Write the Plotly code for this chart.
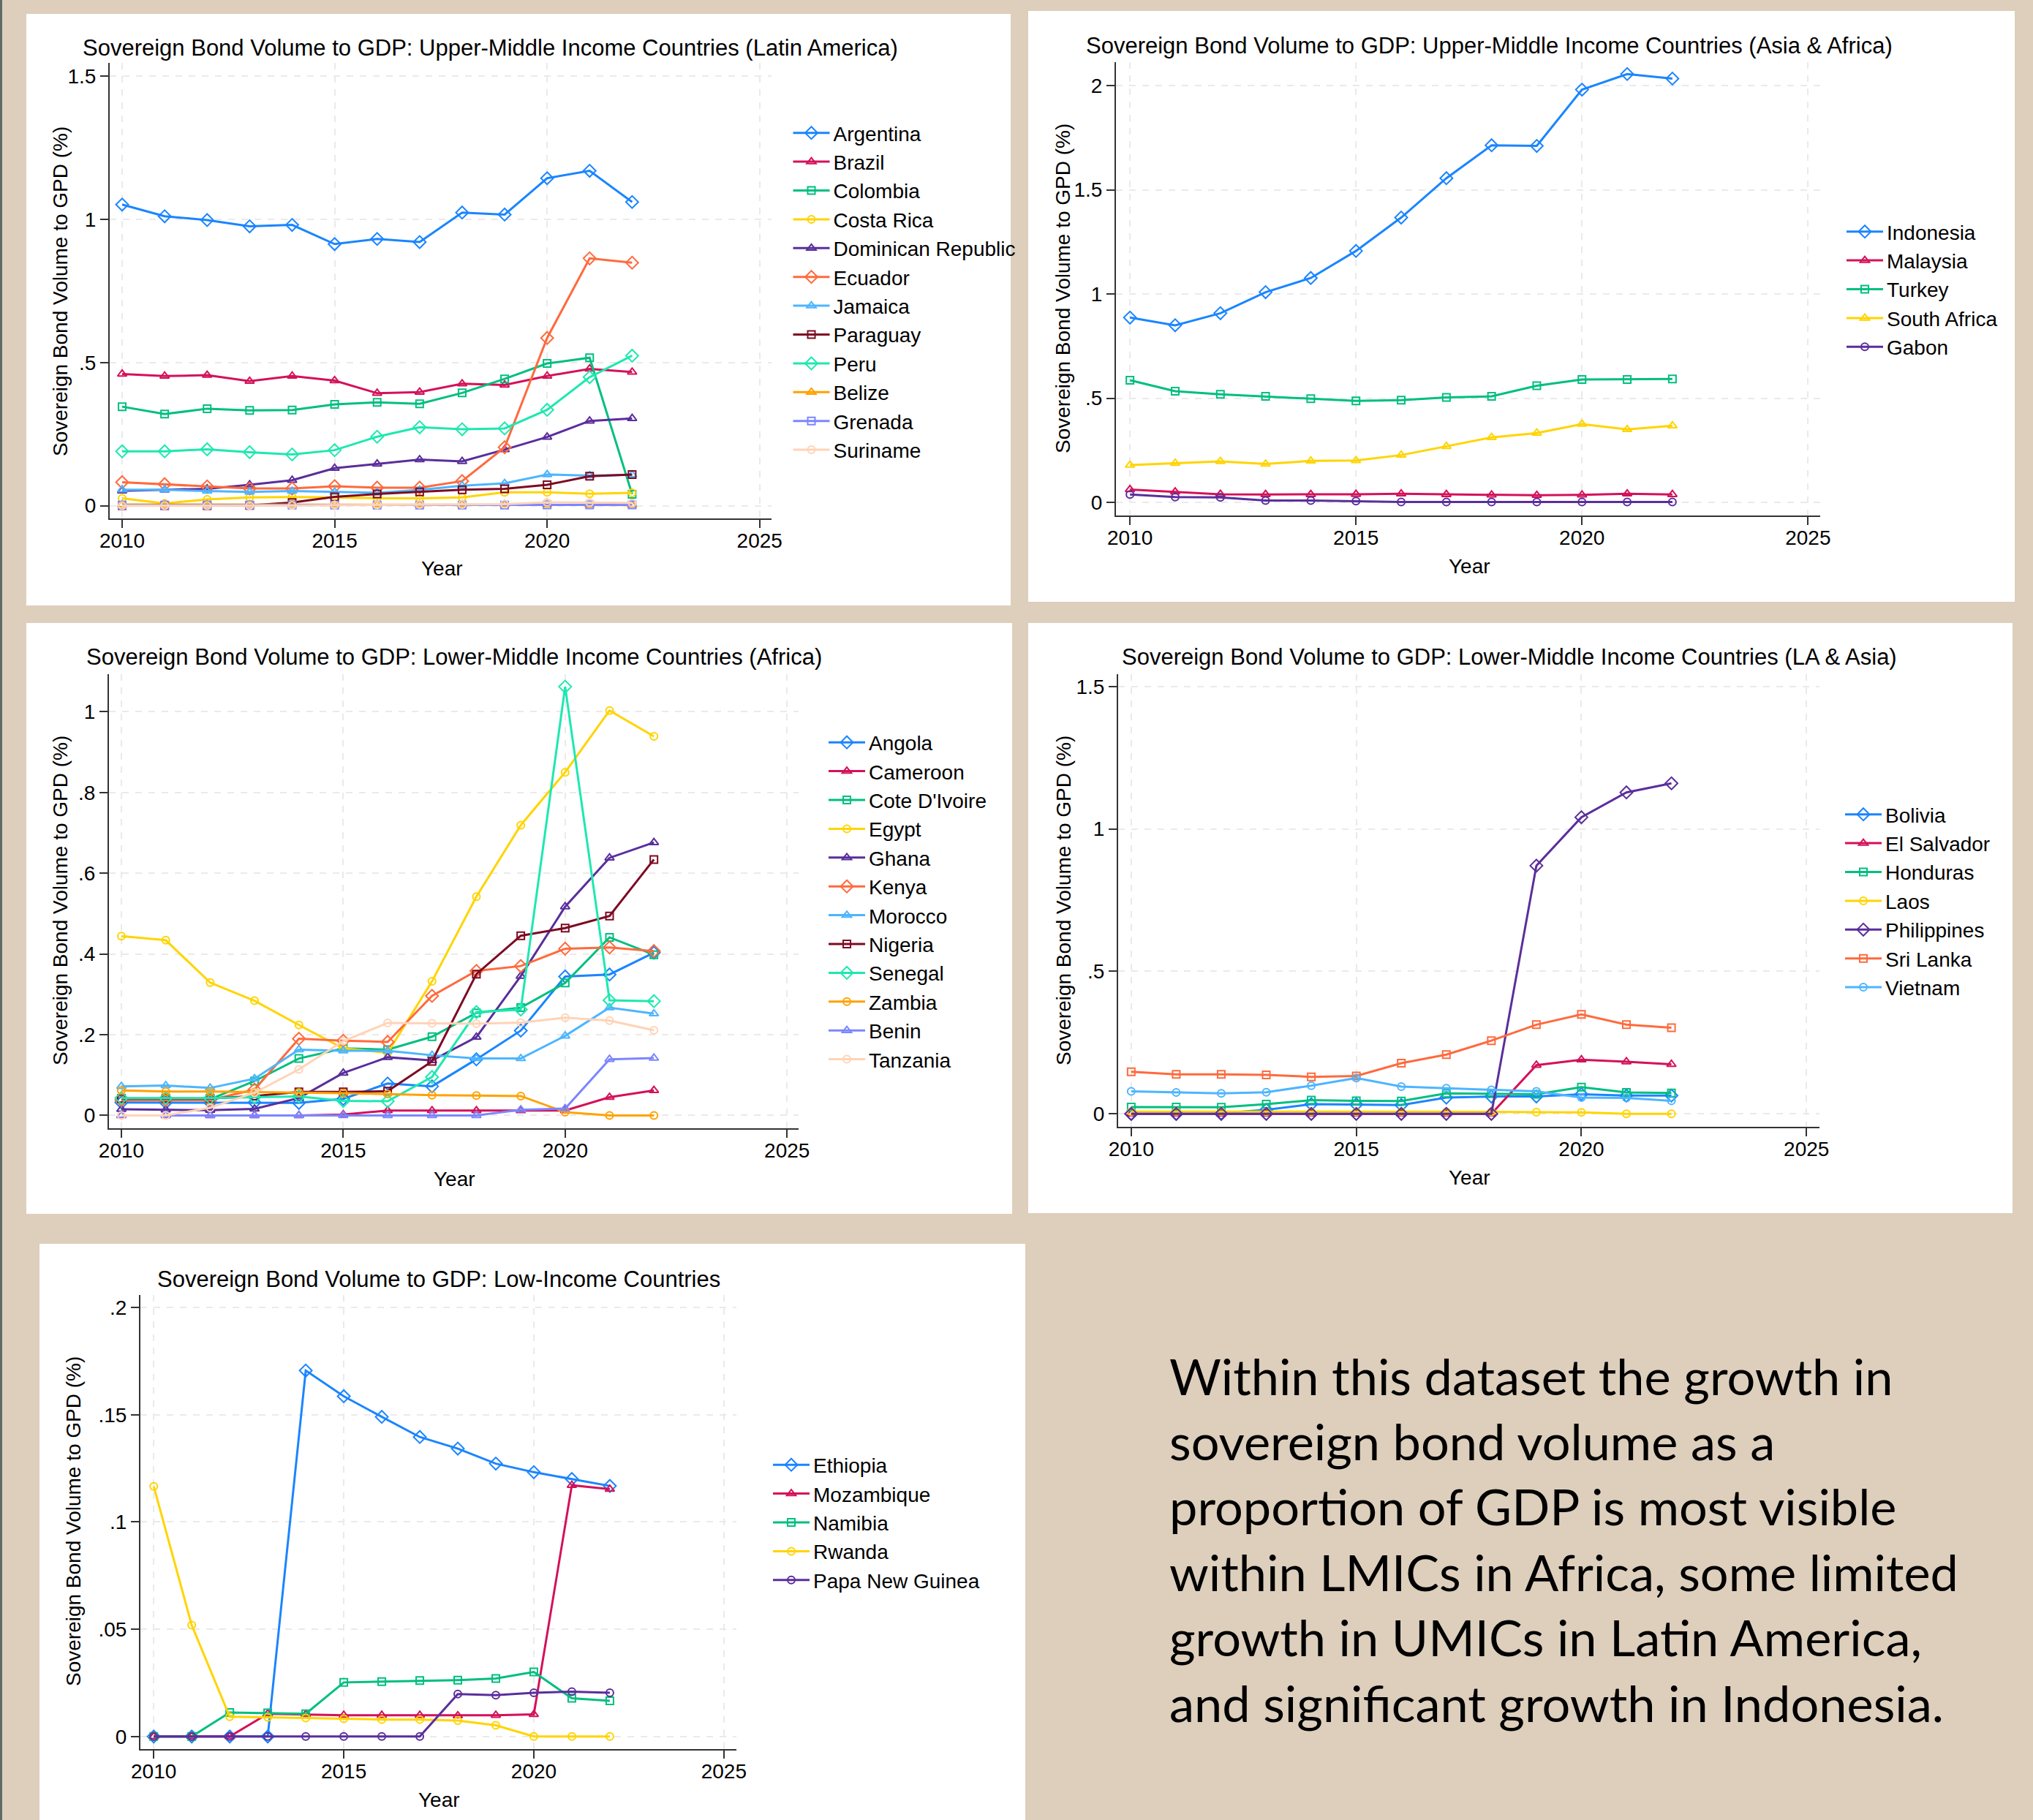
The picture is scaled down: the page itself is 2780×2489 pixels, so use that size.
import plotly.graph_objects as go

W, H = 2780, 2489

# ---------------- DATA ----------------
YEARS = [2010, 2011, 2012, 2013, 2014, 2015, 2016, 2017, 2018, 2019, 2020, 2021, 2022]

# Panel 1: Upper-Middle Income Countries (Latin America)
argentina = [1.052, 1.011, 0.998, 0.976, 0.981, 0.914, 0.932, 0.921, 1.024, 1.017, 1.144, 1.170, 1.061]
brazil = [0.460, 0.453, 0.456, 0.435, 0.453, 0.437, 0.393, 0.397, 0.426, 0.422, 0.453, 0.478, 0.467]
colombia = [0.346, 0.320, 0.339, 0.333, 0.334, 0.354, 0.361, 0.356, 0.394, 0.443, 0.497, 0.517, 0.040]
costa_rica = [0.026, 0.008, 0.022, 0.029, 0.030, 0.029, 0.026, 0.026, 0.029, 0.047, 0.047, 0.042, 0.045]
dominican_republic = [0.052, 0.055, 0.059, 0.073, 0.089, 0.131, 0.146, 0.161, 0.155, 0.196, 0.240, 0.296, 0.305]
ecuador = [0.082, 0.075, 0.067, 0.060, 0.060, 0.068, 0.063, 0.063, 0.086, 0.204, 0.586, 0.864, 0.849]
jamaica = [0.056, 0.056, 0.051, 0.048, 0.051, 0.048, 0.045, 0.055, 0.070, 0.078, 0.109, 0.105, 0.108]
paraguay = [0.000, 0.000, 0.000, 0.001, 0.011, 0.031, 0.041, 0.048, 0.056, 0.059, 0.073, 0.103, 0.109]
peru = [0.190, 0.190, 0.197, 0.187, 0.179, 0.194, 0.241, 0.274, 0.267, 0.270, 0.335, 0.449, 0.524]
belize = [0.004, 0.004, 0.004, 0.004, 0.004, 0.004, 0.004, 0.004, 0.004, 0.004, 0.004, 0.003, 0.002]
grenada = [0.002, 0.002, 0.002, 0.002, 0.002, 0.002, 0.002, 0.002, 0.002, 0.002, 0.003, 0.003, 0.003]
suriname = [0.000, 0.000, 0.000, 0.000, 0.001, 0.002, 0.003, 0.004, 0.004, 0.005, 0.012, 0.011, 0.010]
P1_COUNTRIES = ["Argentina", "Brazil", "Colombia", "Costa Rica", "Dominican Republic", "Ecuador",
                "Jamaica", "Paraguay", "Peru", "Belize", "Grenada", "Suriname"]
P1_SERIES = [argentina, brazil, colombia, costa_rica, dominican_republic, ecuador,
             jamaica, paraguay, peru, belize, grenada, suriname]
P1_TICKS = [0, 0.5, 1, 1.5]
P1_TICKTEXT = ["0", ".5", "1", "1.5"]

# Panel 2: Upper-Middle Income Countries (Asia & Africa)
indonesia = [0.887, 0.850, 0.908, 1.009, 1.077, 1.207, 1.367, 1.556, 1.714, 1.711, 1.981, 2.056, 2.034]
malaysia = [0.062, 0.051, 0.039, 0.038, 0.038, 0.039, 0.041, 0.038, 0.036, 0.034, 0.036, 0.041, 0.038]
turkey = [0.586, 0.534, 0.519, 0.509, 0.498, 0.487, 0.491, 0.504, 0.509, 0.560, 0.590, 0.590, 0.592]
south_africa = [0.179, 0.188, 0.197, 0.184, 0.199, 0.201, 0.227, 0.269, 0.312, 0.333, 0.376, 0.350, 0.368]
gabon = [0.038, 0.026, 0.024, 0.009, 0.009, 0.006, 0.002, 0.002, 0.002, 0.002, 0.002, 0.002, 0.002]
P2_COUNTRIES = ["Indonesia", "Malaysia", "Turkey", "South Africa", "Gabon"]
P2_SERIES = [indonesia, malaysia, turkey, south_africa, gabon]
P2_TICKS = [0, 0.5, 1, 1.5, 2]
P2_TICKTEXT = ["0", ".5", "1", "1.5", "2"]

# Panel 3: Lower-Middle Income Countries (Africa)
angola = [0.032, 0.032, 0.032, 0.032, 0.031, 0.041, 0.079, 0.072, 0.139, 0.210, 0.344, 0.349, 0.403]
cameroon = [0.000, 0.000, 0.000, 0.000, 0.000, 0.002, 0.012, 0.012, 0.012, 0.012, 0.012, 0.045, 0.062]
cote_divoire = [0.040, 0.040, 0.040, 0.085, 0.141, 0.166, 0.163, 0.195, 0.254, 0.267, 0.328, 0.441, 0.398]
egypt = [0.444, 0.434, 0.329, 0.284, 0.224, 0.166, 0.155, 0.332, 0.542, 0.719, 0.850, 1.003, 0.939]
ghana = [0.015, 0.014, 0.013, 0.016, 0.043, 0.105, 0.144, 0.136, 0.194, 0.345, 0.517, 0.638, 0.676]
kenya = [0.038, 0.038, 0.038, 0.064, 0.190, 0.185, 0.182, 0.296, 0.358, 0.370, 0.413, 0.416, 0.407]
morocco = [0.072, 0.074, 0.068, 0.091, 0.163, 0.160, 0.160, 0.149, 0.141, 0.141, 0.197, 0.267, 0.252]
nigeria = [0.042, 0.042, 0.042, 0.048, 0.058, 0.058, 0.060, 0.134, 0.350, 0.445, 0.464, 0.494, 0.634]
senegal = [0.043, 0.043, 0.043, 0.045, 0.047, 0.036, 0.035, 0.095, 0.256, 0.262, 1.062, 0.285, 0.283]
zambia = [0.062, 0.059, 0.059, 0.058, 0.057, 0.055, 0.053, 0.050, 0.049, 0.048, 0.008, 0.000, 0.000]
benin = [0.000, 0.000, 0.000, 0.000, 0.000, 0.000, 0.000, 0.000, 0.000, 0.014, 0.017, 0.139, 0.142]
tanzania = [0.000, 0.000, 0.019, 0.056, 0.114, 0.184, 0.229, 0.228, 0.227, 0.230, 0.242, 0.235, 0.211]
P3_COUNTRIES = ["Angola", "Cameroon", "Cote D'Ivoire", "Egypt", "Ghana", "Kenya", "Morocco",
                "Nigeria", "Senegal", "Zambia", "Benin", "Tanzania"]
P3_SERIES = [angola, cameroon, cote_divoire, egypt, ghana, kenya, morocco,
             nigeria, senegal, zambia, benin, tanzania]
P3_TICKS = [0, 0.2, 0.4, 0.6, 0.8, 1]
P3_TICKTEXT = ["0", ".2", ".4", ".6", ".8", "1"]

# Panel 4: Lower-Middle Income Countries (LA & Asia)
bolivia = [0.000, 0.000, 0.002, 0.014, 0.034, 0.033, 0.031, 0.057, 0.061, 0.061, 0.069, 0.064, 0.064]
el_salvador = [0.000, 0.000, 0.000, 0.000, 0.000, 0.000, 0.000, 0.000, 0.000, 0.171, 0.190, 0.183, 0.174]
honduras = [0.024, 0.024, 0.023, 0.034, 0.048, 0.046, 0.045, 0.072, 0.071, 0.069, 0.094, 0.075, 0.073]
laos = [0.008, 0.008, 0.008, 0.007, 0.007, 0.007, 0.007, 0.007, 0.007, 0.006, 0.005, 0.000, 0.000]
philippines = [0.000, 0.000, 0.000, 0.000, 0.000, 0.000, 0.000, 0.000, 0.000, 0.871, 1.041, 1.128, 1.160]
sri_lanka = [0.148, 0.139, 0.139, 0.137, 0.130, 0.133, 0.178, 0.208, 0.257, 0.313, 0.349, 0.313, 0.302]
vietnam = [0.079, 0.075, 0.072, 0.076, 0.099, 0.126, 0.096, 0.090, 0.084, 0.079, 0.057, 0.056, 0.046]
P4_COUNTRIES = ["Bolivia", "El Salvador", "Honduras", "Laos", "Philippines", "Sri Lanka", "Vietnam"]
P4_SERIES = [bolivia, el_salvador, honduras, laos, philippines, sri_lanka, vietnam]
P4_TICKS = [0, 0.5, 1, 1.5]
P4_TICKTEXT = ["0", ".5", "1", "1.5"]

# Panel 5: Low-Income Countries
ethiopia = [0.0, 0.0, 0.0, 0.0, 0.1706, 0.1586, 0.1490, 0.1396, 0.1342, 0.1272, 0.1232, 0.1200, 0.1168]
mozambique = [0.0, 0.0, 0.0, 0.0106, 0.0103, 0.0099, 0.0099, 0.0099, 0.0097, 0.0099, 0.0103, 0.1171, 0.1153]
namibia = [0.0, 0.0, 0.0112, 0.0110, 0.0106, 0.0252, 0.0256, 0.0261, 0.0263, 0.0270, 0.0301, 0.0178, 0.0166]
rwanda = [0.1166, 0.0519, 0.0092, 0.0090, 0.0086, 0.0083, 0.0079, 0.0079, 0.0074, 0.0052, 0.0, 0.0, 0.0]
papua_new_guinea = [0.0, 0.0, 0.0, 0.0, 0.0, 0.0, 0.0, 0.0, 0.0198, 0.0193, 0.0204, 0.0209, 0.0204]
P5_COUNTRIES = ["Ethiopia", "Mozambique", "Namibia", "Rwanda", "Papa New Guinea"]
P5_SERIES = [ethiopia, mozambique, namibia, rwanda, papua_new_guinea]
P5_TICKS = [0, 0.05, 0.1, 0.15, 0.2]
P5_TICKTEXT = ["0", ".05", ".1", ".15", ".2"]

X_TICKS = [2010, 2015, 2020, 2025]

TITLES = [
    "Sovereign Bond Volume to GDP: Upper-Middle Income Countries (Latin America)",
    "Sovereign Bond Volume to GDP: Upper-Middle Income Countries (Asia & Africa)",
    "Sovereign Bond Volume to GDP: Lower-Middle Income Countries (Africa)",
    "Sovereign Bond Volume to GDP: Lower-Middle Income Countries (LA & Asia)",
    "Sovereign Bond Volume to GDP: Low-Income Countries",
]
Y_TITLE = "Sovereign Bond Volume to GPD (%)"
X_TITLE = "Year"
NOTE_LINES = [
    "Within this dataset the growth in",
    "sovereign bond volume as a",
    "proportion of GDP is most visible",
    "within LMICs in Africa, some limited",
    "growth in UMICs in Latin America,",
    "and significant growth in Indonesia.",
]

# ---------------- STYLES ----------------
BLUE = "#1A85FF"
RED = "#D41159"
GREEN = "#00BF7F"
YELLOW = "#FFD400"
PURPLE = "#5A2E9C"
ORANGERED = "#FF6A3D"
LIGHTBLUE = "#4DB5FF"
MAROON = "#7D0A22"
AQUA = "#1DE8B0"
ORANGE = "#FFA200"
PERIWINKLE = "#7B86FF"
PEACH = "#FFD3B6"

D, T, S, C = "diamond-open", "triangle-up-open", "square-open", "circle-open"

P1_STYLE = list(zip([BLUE, RED, GREEN, YELLOW, PURPLE, ORANGERED, LIGHTBLUE, MAROON, AQUA, ORANGE, PERIWINKLE, PEACH],
                    [D, T, S, C, T, D, T, S, D, T, S, C]))
P2_STYLE = list(zip([BLUE, RED, GREEN, YELLOW, PURPLE], [D, T, S, T, C]))
P3_STYLE = list(zip([BLUE, RED, GREEN, YELLOW, PURPLE, ORANGERED, LIGHTBLUE, MAROON, AQUA, ORANGE, PERIWINKLE, PEACH],
                    [D, T, S, C, T, D, T, S, D, C, T, C]))
P4_STYLE = list(zip([BLUE, RED, GREEN, YELLOW, PURPLE, ORANGERED, LIGHTBLUE], [D, T, S, C, D, S, C]))
P5_STYLE = list(zip([BLUE, RED, GREEN, YELLOW, PURPLE], [D, T, S, C, C]))

MSIZE = {D: 13, T: 11, S: 10, C: 10}

FONT = "Liberation Sans, Arial, Helvetica, sans-serif"
BG = "#DDCFBC"
AXCOL = "#333333"

# pixel geometry of each panel: white box, plot area, axis ranges, title/ytitle/xtitle centres, legend
PANELS = [
    dict(box=(36, 19, 1382, 828), plot=(150, 86, 1055, 709), xr=(2009.707, 2025.28), yr=(-0.0445, 1.547),
         title=(670, 66), ytitle=(83, 399), xtitle=(604, 778), leg=(1079.5, 157)),
    dict(box=(1406, 15, 2755, 823), plot=(1526, 85, 2489, 705), xr=(2009.69, 2025.27), yr=(-0.063, 2.113),
         title=(2037, 62), ytitle=(1454, 395), xtitle=(2009, 774), leg=(2520, 292)),
    dict(box=(36, 852, 1384, 1660), plot=(149, 922, 1092, 1543), xr=(2009.72, 2025.26), yr=(-0.0319, 1.093),
         title=(621, 899), ytitle=(82, 1232), xtitle=(621, 1612), leg=(1128, 990.5)),
    dict(box=(1406, 852, 2752, 1659), plot=(1529, 922, 2487.5, 1541), xr=(2009.71, 2025.28), yr=(-0.0454, 1.543),
         title=(2064, 899), ytitle=(1454, 1232), xtitle=(2009, 1610), leg=(2518, 1089)),
    dict(box=(54, 1701, 1402, 2489), plot=(192, 1771, 1007, 2392), xr=(2009.65, 2025.33), yr=(-0.00586, 0.2058),
         title=(600, 1749), ytitle=(100, 2081), xtitle=(600, 2461), leg=(1052, 1978.5)),
]
DATA = [
    (P1_COUNTRIES, P1_SERIES, P1_STYLE, P1_TICKS, P1_TICKTEXT),
    (P2_COUNTRIES, P2_SERIES, P2_STYLE, P2_TICKS, P2_TICKTEXT),
    (P3_COUNTRIES, P3_SERIES, P3_STYLE, P3_TICKS, P3_TICKTEXT),
    (P4_COUNTRIES, P4_SERIES, P4_STYLE, P4_TICKS, P4_TICKTEXT),
    (P5_COUNTRIES, P5_SERIES, P5_STYLE, P5_TICKS, P5_TICKTEXT),
]


def fx(px):
    return px / W


def fy(py):
    return 1 - py / H


fig = go.Figure()
layout = dict(
    template="none",
    width=W, height=H, autosize=False,
    margin=dict(l=0, r=0, t=0, b=0, pad=0, autoexpand=False),
    paper_bgcolor=BG, plot_bgcolor="white",
    font=dict(family=FONT, size=28, color="black"),
    showlegend=True,
)
shapes = [dict(type="rect", xref="paper", yref="paper", x0=0, x1=fx(3), y0=0, y1=1,
               fillcolor="#5E6B67", line=dict(width=0), layer="below")]
annotations = []

for i, (geom, (countries, series, style, yticks, yticktext)) in enumerate(zip(PANELS, DATA)):
    n = "" if i == 0 else str(i + 1)
    legname = "legend" + n
    bx0, by0, bx1, by1 = geom["box"]
    shapes.append(dict(type="rect", xref="paper", yref="paper", x0=fx(bx0), x1=fx(bx1),
                       y0=fy(by1), y1=fy(by0), fillcolor="white", line=dict(width=0), layer="below"))
    px0, py0, px1, py1 = geom["plot"]
    axis_common = dict(showline=True, linecolor=AXCOL, linewidth=2, ticks="outside", ticklen=11,
                       tickwidth=2, tickcolor=AXCOL, showgrid=True, gridcolor="#EAEAEA", gridwidth=2,
                       griddash="dash", zeroline=False, automargin=False, mirror=False,
                       tickfont=dict(family=FONT, size=28, color="black"))
    layout["xaxis" + n] = dict(domain=[fx(px0), fx(px1)], range=list(geom["xr"]), anchor="y" + n,
                               tickvals=X_TICKS, ticktext=[str(v) for v in X_TICKS],
                               ticklabelstandoff=-7, **axis_common)
    layout["yaxis" + n] = dict(domain=[fy(py1), fy(py0)], range=list(geom["yr"]), anchor="x" + n,
                               tickvals=yticks, ticktext=yticktext, **axis_common)
    lx, ly = geom["leg"]
    layout[legname] = dict(x=fx(lx), y=fy(ly), xanchor="left", yanchor="top", bgcolor="rgba(0,0,0,0)",
                           borderwidth=0,
                           font=dict(family=FONT, size=28, color="black"), itemwidth=50,
                           tracegroupgap=3, traceorder="normal")
    for j, (name, vals, (col, sym)) in enumerate(zip(countries, series, style)):
        fig.add_trace(go.Scatter(
            x=YEARS, y=vals, name=name, mode="lines+markers",
            xaxis="x" + n, yaxis="y" + n, legend=legname, legendgroup=f"g{i}_{j}",
            line=dict(color=col, width=3),
            marker=dict(symbol=sym, size=MSIZE[sym], color=col, line=dict(color=col, width=2)),
        ))
    tx, ty = geom["title"]
    annotations.append(dict(text=TITLES[i], xref="paper", yref="paper", x=fx(tx), y=fy(ty),
                            xanchor="center", yanchor="middle", showarrow=False,
                            font=dict(family=FONT, size=31, color="black")))
    yx, yy = geom["ytitle"]
    annotations.append(dict(text=Y_TITLE, xref="paper", yref="paper", x=fx(yx), y=fy(yy),
                            xanchor="center", yanchor="middle", showarrow=False, textangle=-90,
                            font=dict(family=FONT, size=28, color="black")))
    xx, xy = geom["xtitle"]
    annotations.append(dict(text=X_TITLE, xref="paper", yref="paper", x=fx(xx), y=fy(xy),
                            xanchor="center", yanchor="middle", showarrow=False,
                            font=dict(family=FONT, size=28, color="black")))

NOTE_X = 1597
NOTE_BASELINE0 = 1906
NOTE_STEP = 89.4
for k, line in enumerate(NOTE_LINES):
    annotations.append(dict(text=line, xref="paper", yref="paper", x=fx(NOTE_X),
                            y=fy(NOTE_BASELINE0 + k * NOTE_STEP - 25), xanchor="left", yanchor="middle",
                            showarrow=False, font=dict(family="Lato, Carlito, Calibri, sans-serif", size=68.5,
                                                       color="black")))

layout["shapes"] = shapes
layout["annotations"] = annotations
fig.update_layout(**layout)
fig.write_html(
    "out.html",
    config={"displayModeBar": False, "responsive": False},
    post_script="document.body.style.margin='0px';document.body.style.overflow='hidden';",
)
